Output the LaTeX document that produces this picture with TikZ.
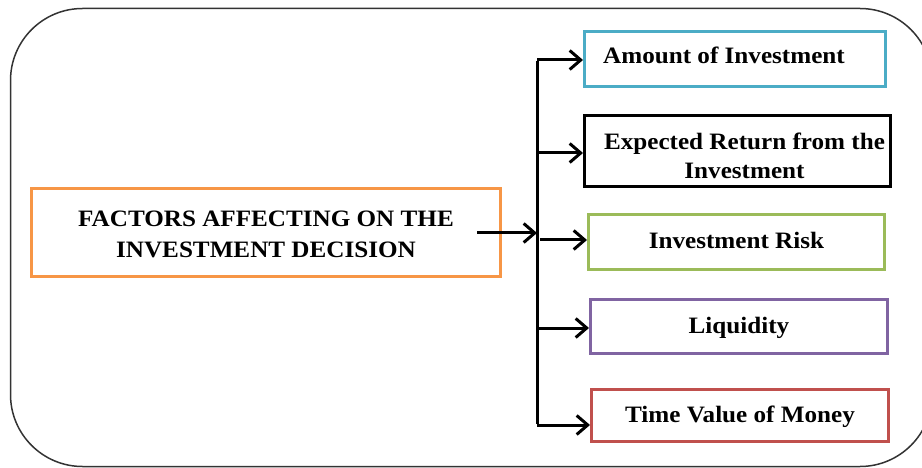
\documentclass[tikz,border=0pt]{standalone}
\usepackage{fontspec}
\setmainfont{Liberation Serif}[FakeStretch=1.07]
\usetikzlibrary{arrows.meta}
\definecolor{cblue}{HTML}{4BACC6}
\definecolor{corange}{HTML}{F79646}
\definecolor{cgreen}{HTML}{9BBB59}
\definecolor{cpurple}{HTML}{8064A2}
\definecolor{cred}{HTML}{C0504D}
\definecolor{cframe}{HTML}{333333}
\tikzset{
  factorbox/.style={draw, line width=3pt, rectangle, inner sep=0pt, align=center,
    font=\fontsize{23.5}{29}\selectfont\bfseries, text height=16pt, text depth=0pt},
  link/.style={line width=3pt, -{Straight Barb[length=11pt,width=19pt,line width=3pt]}},
  spine/.style={line width=3pt}
}
\begin{document}
\begin{tikzpicture}[x=1pt,y=-1pt]
\useasboundingbox (0,0) rectangle (922,468);
\clip (0,0) rectangle (922,468);
\draw[cframe, line width=1.5pt, rounded corners=72pt] (10.5,8.5) rectangle (932,466.5);

\node[factorbox, draw=corange, minimum width=469pt, minimum height=88pt,
  font=\fontsize{23.5}{31}\selectfont\bfseries, text height=51pt, text depth=0pt] (main) at (266,232.5)
  {FACTORS AFFECTING ON THE\\INVESTMENT DECISION};

\node[factorbox, draw=cblue, minimum width=301pt, minimum height=55pt, text depth=6pt] (b1) at (735,59)
  {Amount of Investment\hspace*{22pt}};
\node[factorbox, draw=black, minimum width=306pt, minimum height=71pt, text height=54.6pt, text depth=0pt] (b2) at (737.5,151)
  {\hspace*{14pt}Expected Return from the\\\hspace*{14pt}Investment};
\node[factorbox, draw=cgreen, minimum width=296pt, minimum height=55pt, text depth=3.4pt] (b3) at (736.5,242)
  {Investment Risk};
\node[factorbox, draw=cpurple, minimum width=297pt, minimum height=54pt, text depth=2.4pt] (b4) at (739,326.5)
  {Liquidity};
\node[factorbox, draw=cred, minimum width=297pt, minimum height=52pt, text depth=1.6pt] (b5) at (740,415.5)
  {Time Value of Money};

\coordinate (s1) at (537,60);
\coordinate (s2) at (537,153);
\coordinate (s3) at (540,240);
\coordinate (s4) at (537,328);
\coordinate (s5) at (537,425);
\coordinate (sm) at (537,233);

\draw[spine] ([yshift=-1.5pt]s1) -- ([yshift=1.5pt]s5);
\draw[link] ([xshift=-25pt]main.east |- sm) -- (sm);
\draw[link] (s1) -- (b1.west |- s1);
\draw[link] (s2) -- (b2.west |- s2);
\draw[link] (s3) -- (b3.west |- s3);
\draw[link] (s4) -- (b4.west |- s4);
\draw[link] (s5) -- (b5.west |- s5);
\end{tikzpicture}
\end{document}
